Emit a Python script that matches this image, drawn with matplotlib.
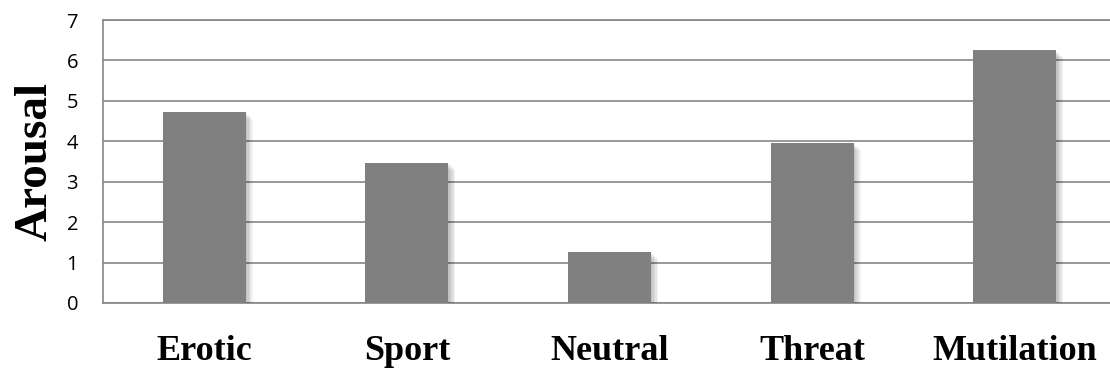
import matplotlib
matplotlib.use("Agg")
import matplotlib.pyplot as plt
import matplotlib.patheffects as pe

categories = ["Erotic", "Sport", "Neutral", "Threat", "Mutilation"]
arousal = [4.73, 3.47, 1.27, 3.96, 6.25]
yticks = [0, 1, 2, 3, 4, 5, 6, 7]

fig = plt.figure(figsize=(11.1, 3.7), dpi=100)
# plot area runs a little past the right edge of the image
ax = fig.add_axes([103 / 1110, 67 / 370, 1013 / 1110, 283 / 370])

# soft drop shadow built from a few stacked offset shadows
shadow = [pe.SimplePatchShadow(offset=(d, -d), shadow_rgbFace="black", alpha=0.05)
          for d in (1, 2, 3, 4, 5)] + [pe.Normal()]

x = list(range(len(categories)))
bars = ax.bar(x, arousal, width=0.41, color="#808080", zorder=3)
for b in bars:
    b.set_path_effects(shadow)

ax.set_xlim(-0.5, len(categories) - 0.5)
ax.set_ylim(0, 7)
ax.set_yticks(yticks)
ax.set_yticklabels([str(t) for t in yticks], fontfamily="Open Sans", fontsize=14.5)
ax.set_xticks(x)
ax.set_xticklabels(categories, fontfamily="Liberation Serif", fontweight="bold", fontsize=26)
ax.tick_params(axis="both", length=0)
ax.tick_params(axis="y", pad=18)
ax.tick_params(axis="x", pad=23)

ax.yaxis.grid(True, color="#868686", linewidth=1.2, zorder=0)
ax.set_axisbelow(True)
for side in ("left", "bottom", "top"):
    ax.spines[side].set_color("#868686")
    ax.spines[side].set_linewidth(1.2)
ax.spines["right"].set_visible(False)

ax.set_ylabel("Arousal", fontfamily="Liberation Serif", fontweight="bold", fontsize=34)
ax.yaxis.set_label_coords(-0.046, 0.5)

fig.savefig("out.png", dpi=100)
